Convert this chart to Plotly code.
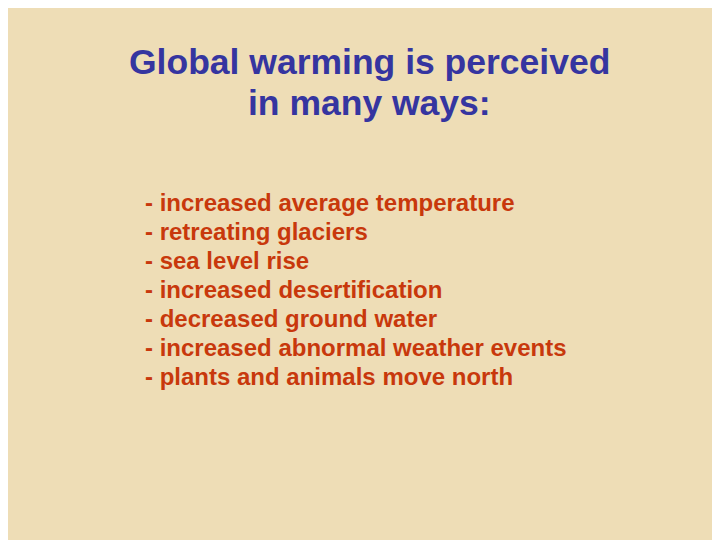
import plotly.graph_objects as go

title_lines = ["Global warming is perceived", "in many ways:"]
bullets = [
    "- increased average temperature",
    "- retreating glaciers",
    "- sea level rise",
    "- increased desertification",
    "- decreased ground water",
    "- increased abnormal weather events",
    "- plants and animals move north",
]

W, H = 720, 540
OFF = 8  # page body margin
fig = go.Figure()

for i, t in enumerate(title_lines):
    fig.add_annotation(x=(369 - OFF) / W, y=1 - (62 - OFF + 41 * i) / H, xref="paper", yref="paper",
                       text="<b>%s</b>" % t, showarrow=False, xanchor="center", yanchor="middle",
                       font=dict(family="Liberation Sans, Arial", size=35.5, color="#3535A0"))

for i, b in enumerate(bullets):
    fig.add_annotation(x=(143 - OFF) / W, y=1 - (202 - OFF + 29 * i) / H, xref="paper", yref="paper",
                       text="<b>%s</b>" % b, showarrow=False, xanchor="left", yanchor="middle",
                       font=dict(family="Liberation Sans, Arial", size=24, color="#C8380C"))

fig.update_layout(width=W, height=H, margin=dict(l=0, r=0, t=0, b=0),
                  paper_bgcolor="#EEDDB6", plot_bgcolor="#EEDDB6",
                  xaxis=dict(visible=False), yaxis=dict(visible=False))
fig.write_html("out.html")
